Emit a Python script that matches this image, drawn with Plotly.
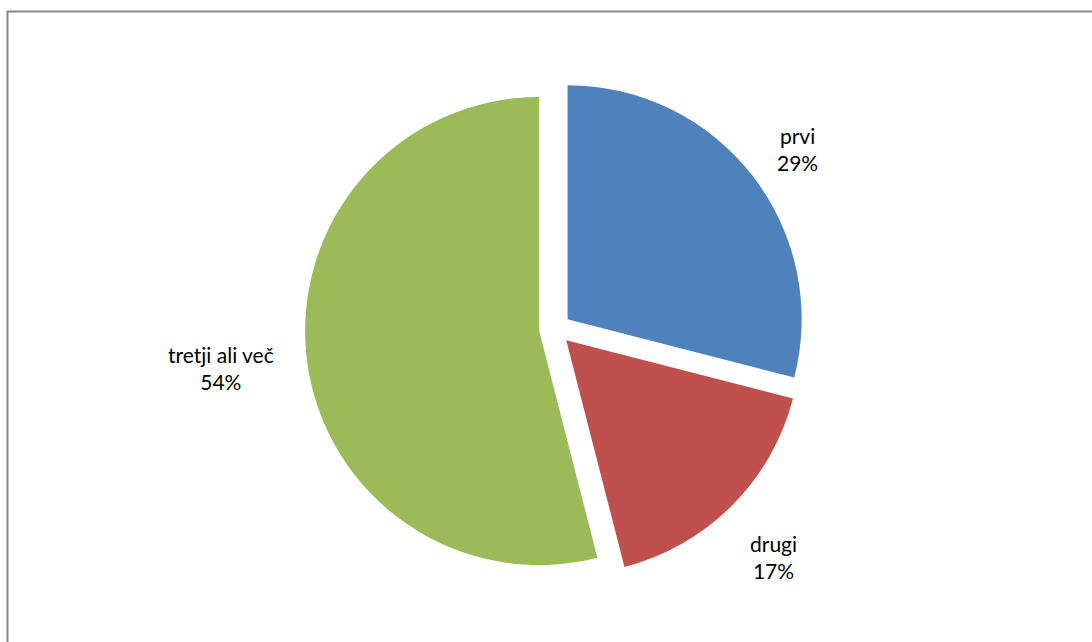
import plotly.graph_objects as go

# Share of answers by category
labels = ["prvi", "drugi", "tretji ali več"]
values = [29, 17, 54]
colors = ["#4F81BD", "#C0504D", "#9BBB59"]
pulls = [0.068, 0.068, 0.068]

W, H = 1092, 642

total = sum(values)
pct = [round(v / total * 100) for v in values]

fig = go.Figure(
    go.Pie(
        labels=labels,
        values=values,
        sort=False,
        direction="clockwise",
        rotation=0,
        pull=pulls,
        marker=dict(colors=colors, line=dict(width=0)),
        textinfo="none",
        hoverinfo="label+percent",
        showlegend=False,
        domain=dict(x=[305 / W, 805 / W], y=[1 - 579 / H, 1 - 79 / H]),
    )
)

# Category labels placed beside each slice
label_pos = [(797, 149), (773, 557), (221, 368)]
for (x, y), name, p in zip(label_pos, labels, pct):
    fig.add_annotation(
        x=x / W, y=1 - y / H, xref="paper", yref="paper",
        text=f"{name}<br>{p}%", showarrow=False,
        font=dict(family="Lato, 'Open Sans', sans-serif", size=21, color="#000000"),
        align="center", xanchor="center", yanchor="middle",
    )

# Chart area frame
fig.add_shape(
    type="rect", xref="paper", yref="paper",
    x0=7.5 / W, x1=1.02, y0=-0.02, y1=1 - 11.5 / H,
    line=dict(color="#878787", width=2), fillcolor="rgba(0,0,0,0)",
)

fig.update_layout(
    width=W, height=H,
    margin=dict(l=0, r=0, t=0, b=0),
    paper_bgcolor="white", plot_bgcolor="white",
)

fig.write_html("out.html")
